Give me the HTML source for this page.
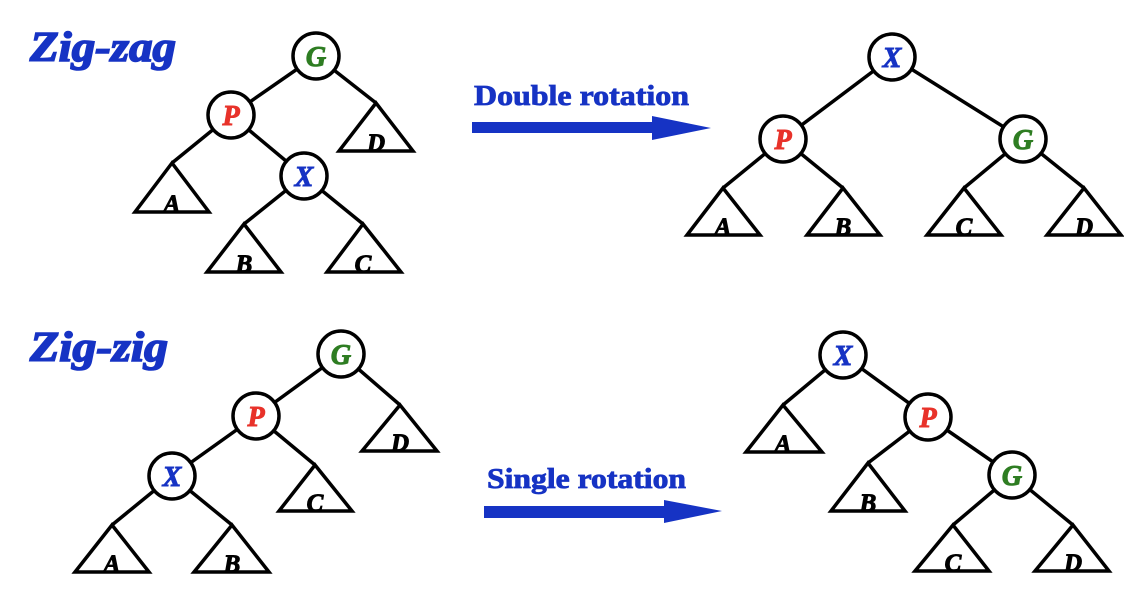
<!DOCTYPE html>
<html><head><meta charset="utf-8"><style>
html,body{margin:0;padding:0;background:#fff;}
svg{display:block}
text{font-family:"Liberation Serif","DejaVu Serif",serif;font-weight:900;}
</style></head><body>
<svg width="1124" height="598" viewBox="0 0 1124 598" xmlns="http://www.w3.org/2000/svg">
<defs>
<style>
.l{stroke:#000;stroke-width:3.5;fill:none;stroke-linejoin:miter}
.c{stroke:#000;stroke-width:3.5;fill:#fff}
.n{font-size:28px;font-style:italic;text-anchor:middle;stroke-width:1;}
.t{font-size:25px;font-style:italic;text-anchor:middle;fill:#000;stroke:#000;stroke-width:1;}
.b{stroke:#1633c4;}
.r{stroke:#e8322a;}
.g{stroke:#2e7d22;}
</style>
</defs>
<!-- Titles -->
<text x="30" y="61" font-size="42" font-style="italic" font-weight="bold" fill="#1633c4" stroke="#1633c4" stroke-width="1.6" textLength="146" lengthAdjust="spacingAndGlyphs">Zig-zag</text>
<text x="30" y="361" font-size="42" font-style="italic" font-weight="bold" fill="#1633c4" stroke="#1633c4" stroke-width="1.6" textLength="138" lengthAdjust="spacingAndGlyphs">Zig-zig</text>

<!-- Arrows -->
<text x="474" y="105" font-size="28" font-weight="bold" fill="#1633c4" stroke="#1633c4" stroke-width="0.8" textLength="215" lengthAdjust="spacingAndGlyphs">Double rotation</text>
<polygon points="472,122 652,122 652,116 711,128 652,140 652,133 472,133" fill="#1633c4"/>
<text x="487" y="488" font-size="28" font-weight="bold" fill="#1633c4" stroke="#1633c4" stroke-width="0.8" textLength="199" lengthAdjust="spacingAndGlyphs">Single rotation</text>
<polygon points="484,506 664,506 664,500 722,511 664,523 664,518 484,518" fill="#1633c4"/>

<!-- Zig-zag left tree -->
<g class="l">
<line x1="316" y1="56" x2="231" y2="115"/>
<line x1="316" y1="56" x2="376" y2="103"/>
<line x1="231" y1="115" x2="172" y2="163"/>
<line x1="231" y1="115" x2="304" y2="176"/>
<line x1="304" y1="176" x2="244" y2="224"/>
<line x1="304" y1="176" x2="363" y2="224"/>
<polygon points="376,103 339,151 413,151"/>
<polygon points="172,163 135,212 209,212"/>
<polygon points="244,224 207,272 281,272"/>
<polygon points="363,224 327,272 401,272"/>
</g>
<circle class="c" cx="316" cy="56" r="23"/>
<circle class="c" cx="231" cy="115" r="23"/>
<circle class="c" cx="304" cy="176" r="23"/>
<text class="n g" x="316" y="66" fill="#2e7d22">G</text>
<text class="n r" x="231" y="125" fill="#e8322a">P</text>
<text class="n b" x="304" y="186" fill="#1633c4">X</text>
<text class="t" x="376" y="151">D</text>
<text class="t" x="172" y="212">A</text>
<text class="t" x="244" y="272">B</text>
<text class="t" x="363" y="272">C</text>

<!-- Zig-zag right tree -->
<g class="l">
<line x1="892" y1="57" x2="783" y2="139"/>
<line x1="892" y1="57" x2="1023" y2="139"/>
<line x1="783" y1="139" x2="723" y2="188"/>
<line x1="783" y1="139" x2="843" y2="188"/>
<line x1="1023" y1="139" x2="964" y2="188"/>
<line x1="1023" y1="139" x2="1084" y2="188"/>
<polygon points="723,188 687,235 760,235"/>
<polygon points="843,188 807,235 880,235"/>
<polygon points="964,188 927,235 1001,235"/>
<polygon points="1084,188 1047,235 1121,235"/>
</g>
<circle class="c" cx="892" cy="57" r="23"/>
<circle class="c" cx="783" cy="139" r="23"/>
<circle class="c" cx="1023" cy="139" r="23"/>
<text class="n b" x="892" y="67" fill="#1633c4">X</text>
<text class="n r" x="783" y="149" fill="#e8322a">P</text>
<text class="n g" x="1023" y="149" fill="#2e7d22">G</text>
<text class="t" x="723" y="235">A</text>
<text class="t" x="843" y="235">B</text>
<text class="t" x="964" y="235">C</text>
<text class="t" x="1084" y="235">D</text>

<!-- Zig-zig left tree -->
<g class="l">
<line x1="341" y1="354" x2="256" y2="416"/>
<line x1="341" y1="354" x2="400" y2="405"/>
<line x1="256" y1="416" x2="172" y2="476"/>
<line x1="256" y1="416" x2="315" y2="465"/>
<line x1="172" y1="476" x2="112" y2="525"/>
<line x1="172" y1="476" x2="232" y2="525"/>
<polygon points="400,405 362,451 437,451"/>
<polygon points="315,465 279,511 352,511"/>
<polygon points="112,525 75,572 149,572"/>
<polygon points="232,525 194,572 269,572"/>
</g>
<circle class="c" cx="341" cy="354" r="23"/>
<circle class="c" cx="256" cy="416" r="23"/>
<circle class="c" cx="172" cy="476" r="23"/>
<text class="n g" x="341" y="364" fill="#2e7d22">G</text>
<text class="n r" x="256" y="426" fill="#e8322a">P</text>
<text class="n b" x="172" y="486" fill="#1633c4">X</text>
<text class="t" x="400" y="451">D</text>
<text class="t" x="315" y="511">C</text>
<text class="t" x="112" y="572">A</text>
<text class="t" x="232" y="572">B</text>

<!-- Zig-zig right tree -->
<g class="l">
<line x1="843" y1="355" x2="783" y2="405"/>
<line x1="843" y1="355" x2="928" y2="417"/>
<line x1="928" y1="417" x2="868" y2="463"/>
<line x1="928" y1="417" x2="1012" y2="475"/>
<line x1="1012" y1="475" x2="953" y2="525"/>
<line x1="1012" y1="475" x2="1073" y2="525"/>
<polygon points="783,405 746,452 822,452"/>
<polygon points="868,463 831,511 905,511"/>
<polygon points="953,525 915,571 989,571"/>
<polygon points="1073,525 1035,571 1109,571"/>
</g>
<circle class="c" cx="843" cy="355" r="23"/>
<circle class="c" cx="928" cy="417" r="23"/>
<circle class="c" cx="1012" cy="475" r="23"/>
<text class="n b" x="843" y="365" fill="#1633c4">X</text>
<text class="n r" x="928" y="427" fill="#e8322a">P</text>
<text class="n g" x="1012" y="485" fill="#2e7d22">G</text>
<text class="t" x="783" y="452">A</text>
<text class="t" x="868" y="511">B</text>
<text class="t" x="953" y="571">C</text>
<text class="t" x="1073" y="571">D</text>
</svg>
</body></html>
